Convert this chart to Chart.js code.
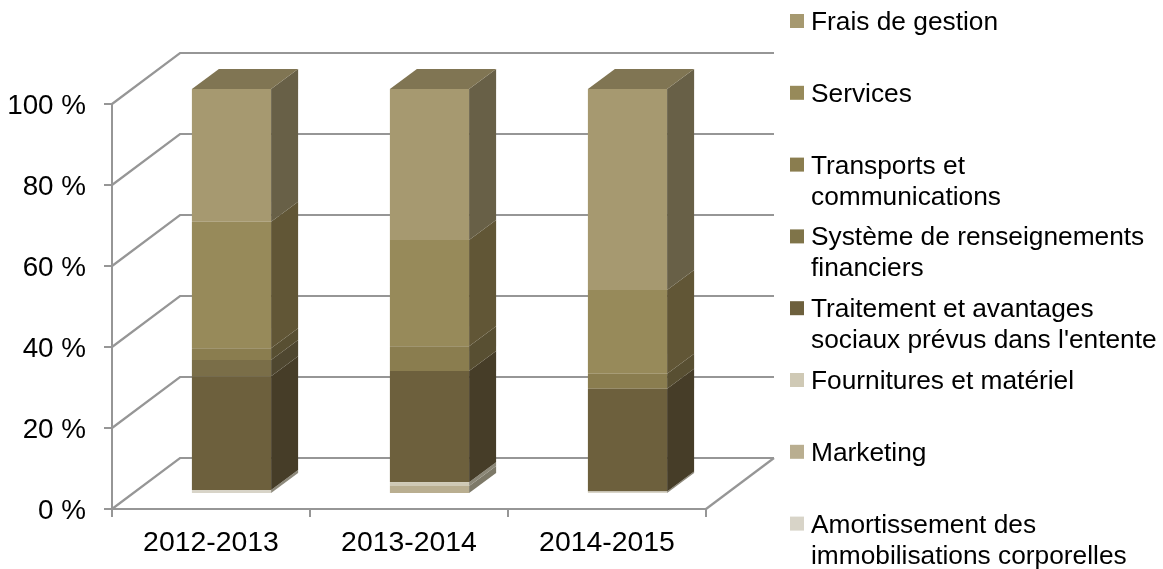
<html lang="fr">

<head>
    <meta charset="UTF-8">
    <title>Charges par exercice</title>
    <script src="https://cdn.jsdelivr.net/npm/chart.js"></script>
    <style>
        body {
            margin: 0;
            background: #fff;
        }
    </style>
</head>

<body>
    <canvas id="stackedChart" width="1163" height="569"></canvas>

    <script>
        var categories = ['2012-2013', '2013-2014', '2014-2015'];

        // bottom of the stack first
        var amortissement = [1.0, 0, 0.6];
        var marketing = [0, 2.0, 0];
        var fournitures = [0, 0.9, 0];
        var traitement = [28.1, 27.5, 25.4];
        var systeme = [4.0, 0, 0];
        var transports = [2.9, 6.1, 3.7];
        var services = [31.2, 26.2, 20.7];
        var frais = [32.8, 37.3, 49.6];

        var tickStep = 20;

        // legend goes top to bottom, labels wrapped like the original
        var legendLines = [
            ['Frais de gestion'],
            ['Services'],
            ['Transports et', 'communications'],
            ['Système de renseignements', 'financiers'],
            ['Traitement et avantages', "sociaux prévus dans l'entente"],
            ['Fournitures et matériel'],
            ['Marketing'],
            ['Amortissement des', 'immobilisations corporelles']
        ];
        var legendColors = ['#A69970', '#978A5A', '#8A7D4F', '#7F7449', '#6D603D', '#CFC9B5', '#B9AE90', '#D8D4C8'];

        var gridColor = '#969696';
        var fontName = '"Liberation Sans", Arial, sans-serif';

        // offsets of the fake 3D box
        var wall = { dx: 68, dy: 51 };
        var barShift = { dx: 20.5, dy: 15 };
        var barDepth = { dx: 27, dy: 20 };

        function dataset(label, data, front, side) {
            return {
                label: label,
                data: data,
                backgroundColor: front,
                sideColor: side,
                borderWidth: 0,
                categoryPercentage: 0.4,
                barPercentage: 1
            };
        }

        // back wall and floor, placed from the scales
        var wallPlugin = {
            id: 'wallPlugin',
            afterLayout: function (chart) {
                // y labels sit a bit under their tick in the original
                chart.scales.y.getLabelItems().forEach(function (item) {
                    item.options.translation[1] += 2;
                });
            },
            beforeDatasetsDraw: function (chart) {
                var c = chart.ctx;
                var x = chart.scales.x;
                var y = chart.scales.y;
                c.save();
                c.strokeStyle = gridColor;
                c.lineWidth = 2.2;
                y.ticks.forEach(function (t) {
                    var py = y.getPixelForValue(t.value);
                    c.beginPath();
                    c.moveTo(x.left, py);
                    c.lineTo(x.left + wall.dx, py - wall.dy);
                    c.lineTo(x.right + wall.dx, py - wall.dy);
                    c.stroke();
                });
                var floor = y.getPixelForValue(0);
                c.beginPath();
                c.moveTo(x.right, floor);
                c.lineTo(x.right + wall.dx, floor - wall.dy);
                c.stroke();
                c.restore();

                // bars stand in the middle of the floor
                c.save();
                c.translate(barShift.dx, -barShift.dy);
            },
            afterDatasetsDraw: function (chart) {
                var c = chart.ctx;
                var last = chart.data.datasets.length - 1;
                chart.data.datasets.forEach(function (ds, i) {
                    chart.getDatasetMeta(i).data.forEach(function (bar) {
                        if (Math.abs(bar.base - bar.y) < 0.01) {
                            return;
                        }
                        var right = bar.x + bar.width / 2;
                        var left = bar.x - bar.width / 2;
                        c.fillStyle = ds.sideColor;
                        c.beginPath();
                        c.moveTo(right, bar.y);
                        c.lineTo(right + barDepth.dx, bar.y - barDepth.dy);
                        c.lineTo(right + barDepth.dx, bar.base - barDepth.dy);
                        c.lineTo(right, bar.base);
                        c.closePath();
                        c.fill();
                        if (i === last) {
                            c.fillStyle = '#807553';
                            c.beginPath();
                            c.moveTo(left, bar.y);
                            c.lineTo(left + barDepth.dx, bar.y - barDepth.dy);
                            c.lineTo(right + barDepth.dx, bar.y - barDepth.dy);
                            c.lineTo(right, bar.y);
                            c.closePath();
                            c.fill();
                        }
                    });
                });
                c.restore();
            }
        };

        var legendPlugin = {
            id: 'legendPlugin',
            afterDraw: function (chart) {
                var c = chart.ctx;
                c.save();
                c.font = '26.3px ' + fontName;
                c.textBaseline = 'alphabetic';
                c.textAlign = 'left';
                legendLines.forEach(function (lines, i) {
                    var mid = 21 + i * 71.8;
                    c.fillStyle = legendColors[i];
                    c.fillRect(790, mid - 7, 14, 14);
                    c.fillStyle = '#000';
                    lines.forEach(function (line, j) {
                        c.fillText(line, 811, mid + 9 + j * 31);
                    });
                });
                c.restore();
            }
        };

        var ctx = document.getElementById('stackedChart').getContext('2d');

        var myChart = new Chart(ctx, {
            type: 'bar',
            data: {
                labels: categories,
                datasets: [
                    dataset('Amortissement des immobilisations corporelles', amortissement, '#D8D4C8', '#8E8A7C'),
                    dataset('Marketing', marketing, '#B9AE90', '#7D7968'),
                    dataset('Fournitures et matériel', fournitures, '#CFC9B5', '#8C8878'),
                    dataset("Traitement et avantages sociaux prévus dans l'entente", traitement, '#6D603D', '#463D28'),
                    dataset('Système de renseignements financiers', systeme, '#7A6E48', '#4F4730'),
                    dataset('Transports et communications', transports, '#8A7D4F', '#584F32'),
                    dataset('Services', services, '#978A5A', '#615636'),
                    dataset('Frais de gestion', frais, '#A69970', '#686047')
                ]
            },
            plugins: [wallPlugin, legendPlugin],
            options: {
                responsive: false,
                animation: false,
                layout: {
                    padding: { top: 104, right: 457, left: 0, bottom: 0 }
                },
                plugins: {
                    legend: { display: false },
                    tooltip: { enabled: false }
                },
                scales: {
                    x: {
                        stacked: true,
                        afterFit: function (scale) {
                            scale.height = 60;
                        },
                        grid: {
                            drawOnChartArea: false,
                            color: gridColor,
                            lineWidth: 2,
                            tickLength: 8
                        },
                        border: { color: gridColor, width: 2 },
                        ticks: {
                            color: '#000',
                            padding: 9,
                            maxRotation: 0,
                            font: { family: fontName, size: 28.4 }
                        }
                    },
                    y: {
                        stacked: true,
                        min: 0,
                        max: 100,
                        afterFit: function (scale) {
                            scale.width = 112;
                        },
                        grid: {
                            drawOnChartArea: false,
                            color: gridColor,
                            lineWidth: 2,
                            tickLength: 8
                        },
                        border: { color: gridColor, width: 2 },
                        ticks: {
                            stepSize: tickStep,
                            color: '#000',
                            padding: 18,
                            font: { family: fontName, size: 27.8 },
                            callback: function (value) {
                                return value + ' %';
                            }
                        }
                    }
                }
            }
        });
    </script>

</body>

</html>
